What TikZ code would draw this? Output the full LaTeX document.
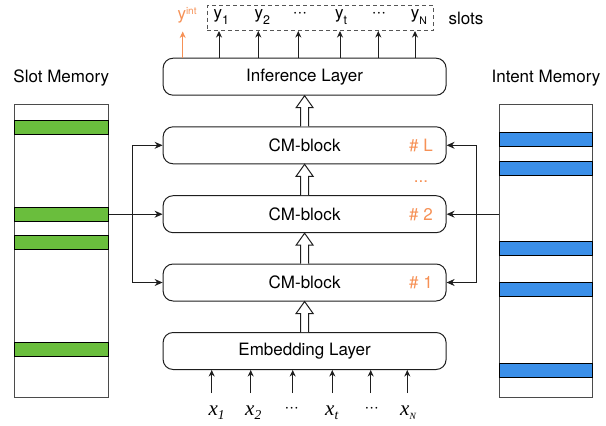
\documentclass[tikz,border=0pt]{standalone}
\usepackage{fontspec}
\setmainfont{TeX Gyre Heros}
\newfontfamily\serifit{Liberation Serif}
\usetikzlibrary{arrows.meta,calc}
\definecolor{memgreen}{RGB}{106,190,61}
\definecolor{memblue}{RGB}{59,143,232}
\definecolor{hlorange}{RGB}{246,145,86}
\definecolor{ln}{RGB}{30,30,30}
\newcommand\ysub[1]{\raisebox{-6pt}{\fontsize{12.5}{12.5}\selectfont #1}}
\newcommand\xlab[1]{{\serifit\itshape\fontsize{21}{21}\selectfont x\raisebox{-4pt}{\fontsize{13.5}{13.5}\selectfont #1}}}
\newcommand\hollowup[2]{\draw[ln, line width=1pt, fill=white, line join=miter]
  ($(#1.north)+(-4,0)$) -- ($(#2.south)+(-4,12)$) -- ($(#2.south)+(-8.5,12)$) -- (#2.south)
  -- ($(#2.south)+(8.5,12)$) -- ($(#2.south)+(4,12)$) -- ($(#1.north)+(4,0)$);}
\begin{document}
\begin{tikzpicture}[x=1pt,y=-1pt,
  font=\fontsize{17}{20}\selectfont,
  layer/.style={draw=ln, line width=1pt, rounded corners=10pt, minimum width=283pt, minimum height=37pt, inner sep=0pt},
  arr/.style={draw=ln, line width=1pt, -{Stealth[length=8pt,width=7pt]}},
  sarr/.style={draw=ln, line width=1pt, -{Stealth[length=6.5pt,width=6pt]}},
  mem/.style={draw=ln!80, line width=1pt, minimum width=93.4pt, minimum height=293pt, inner sep=0pt},
  gbar/.style={draw=black, line width=1pt, fill=memgreen, minimum width=93.4pt, minimum height=14pt, inner sep=0pt},
  bbar/.style={draw=black, line width=1pt, fill=memblue, minimum width=93.4pt, minimum height=14pt, inner sep=0pt},
  olab/.style={text=hlorange, inner sep=0pt},
  lab/.style={anchor=base west, inner sep=0pt}
]
\useasboundingbox (0,0) rectangle (606,426);

% main layers
\node[layer] (inf) at (304.6,76.7) {Inference Layer};
\node[layer] (bL) at (304.6,145.3) {CM-block};
\node[layer] (b2) at (304.6,214.2) {CM-block};
\node[layer] (b1) at (304.6,282.5) {CM-block};
\node[layer] (emb) at (304.6,351) {Embedding Layer};

\node[olab] (nL) at (421,145.3) {\# L};
\node[olab] (n2) at (421,214.2) {\# 2};
\node[olab] (n1) at (421,282.5) {\# 1};
\node[olab, anchor=base] (ndots) at (421,182) {...};

\hollowup{emb}{b1}
\hollowup{b1}{b2}
\hollowup{b2}{bL}
\hollowup{bL}{inf}

% slot memory
\node (stitle) at (61.3,78) {Slot Memory};
\node[mem] (smem) at (61.3,251.2) {};
\node[gbar] (sb1) at (61.3,127) {};
\node[gbar] (sb2) at (61.3,214.2) {};
\node[gbar] (sb3) at (61.3,242) {};
\node[gbar] (sb4) at (61.3,349) {};

% intent memory
\node (ititle) at (546,78) {Intent Memory};
\node[mem] (imem) at (546,251.2) {};
\node[bbar] (ib1) at (546,139.5) {};
\node[bbar] (ib2) at (546,168.3) {};
\node[bbar] (ib3) at (546,248.3) {};
\node[bbar] (ib4) at (546,289.7) {};
\node[bbar] (ib5) at (546,370) {};

% memory connectors
\coordinate (lj) at (132.3,214.2);
\draw[arr] (sb2.east) -- (b2.west);
\draw[arr] (lj) |- (bL.west);
\draw[arr] (lj) |- (b1.west);
\coordinate (rj) at (476.7,214.2);
\draw[arr] (imem.west |- b2.east) -- (b2.east);
\draw[arr] (rj) |- (bL.east);
\draw[arr] (rj) |- (b1.east);

% outputs
\node[draw=ln!75, line width=1pt, dash pattern=on 4pt off 3pt, minimum width=226pt, minimum height=25.5pt, inner sep=0pt] (outbox) at (320.3,17.75) {};
\node[lab] (ly1) at (213.3,18) {y\ysub{1}};
\node[lab] (ly2) at (254.5,18) {y\ysub{2}};
\node[inner sep=0pt] (ld1) at (300,15) {···};
\node[lab] (lyt) at (335,18) {y\ysub{t}};
\node[inner sep=0pt] (ld2) at (379,15) {···};
\node[lab] (lyN) at (410.7,18) {y\raisebox{-6pt}{\fontsize{10.5}{10.5}\selectfont N}};
\node[anchor=base, inner sep=0pt] (slots) at (466,24) {slots};
\node[lab, text=hlorange] (yint) at (177.3,19) {y\raisebox{5pt}{\fontsize{10}{10}\selectfont int}};

\coordinate (t0) at (182.7,31.5);
\coordinate (t1) at (219,0);
\coordinate (t2) at (258.3,0);
\coordinate (t3) at (298.3,0);
\coordinate (t4) at (340,0);
\coordinate (t5) at (378.3,0);
\coordinate (t6) at (415,0);
\draw[sarr, draw=hlorange] (inf.north -| t0) -- (t0);
\foreach \i in {1,...,6}{
  \draw[sarr] (inf.north -| t\i) -- (outbox.south -| t\i);
}

% inputs
\node[lab] (lx1) at (208.3,415) {\xlab{1}};
\node[lab] (lx2) at (245,415) {\xlab{2}};
\node[inner sep=0pt] (lxd1) at (291.7,410) {···};
\node[lab] (lxt) at (325,415) {\xlab{t}};
\node[inner sep=0pt] (lxd2) at (371.7,410) {···};
\node[lab] (lxN) at (400,415) {\xlab{\fontsize{9.5}{9.5}\selectfont N}};
\coordinate (s1) at (211.7,393);
\coordinate (s2) at (250.7,393);
\coordinate (s3) at (292.7,393);
\coordinate (s4) at (332.3,393);
\coordinate (s5) at (370.7,393);
\coordinate (s6) at (407.3,393);
\foreach \i in {1,...,6}{
  \draw[sarr] (s\i) -- (emb.south -| s\i);
}
\end{tikzpicture}
\end{document}
